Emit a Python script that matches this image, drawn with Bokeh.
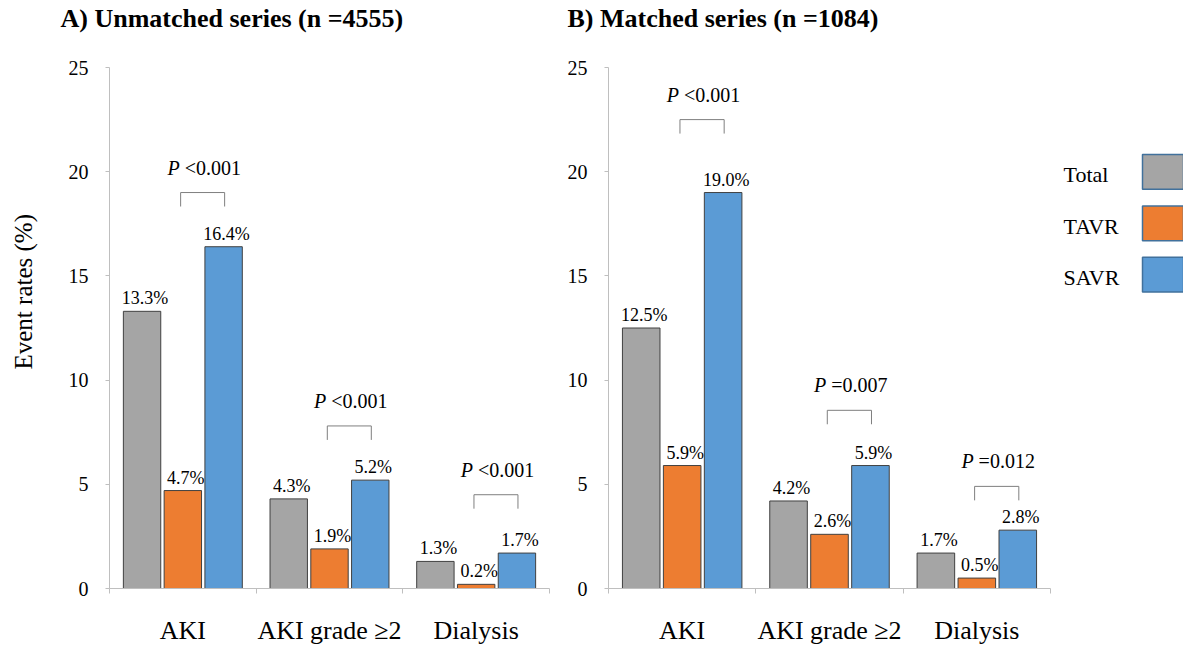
from bokeh.plotting import figure
from bokeh.models import ColumnDataSource, Range1d, FixedTicker, Title
from bokeh.layouts import row
from bokeh.transform import dodge
from bokeh.core.properties import value
from bokeh.embed import file_html
from bokeh.resources import INLINE

# ---------------- data ----------------
categories = ["AKI", "AKI grade \u22652", "Dialysis"]
series = ["Total", "TAVR", "SAVR"]
colors = ["#A5A5A5", "#ED7D31", "#5B9BD5"]

unmatched_total = [13.3, 4.3, 1.3]
unmatched_tavr = [4.7, 1.9, 0.2]
unmatched_savr = [16.4, 5.2, 1.7]
unmatched_p = ["<0.001", "<0.001", "<0.001"]
unmatched_bracket = [19.0, 7.8, 4.5]

matched_total = [12.5, 4.2, 1.7]
matched_tavr = [5.9, 2.6, 0.5]
matched_savr = [19.0, 5.9, 2.8]
matched_p = ["<0.001", "=0.007", "=0.012"]
matched_bracket = [22.5, 8.55, 4.9]

y_ticks = [0, 5, 10, 15, 20, 25]

title_a = "A) Unmatched series (n =4555)"
title_b = "B) Matched series (n =1084)"
y_label = "Event rates (%)"

FONT = "Liberation Serif"
AXIS_COLOR = "#BFBFBF"
H = 647
TOP = 67
BOTTOM = 56


def spacer(size):
    return Title(text=" ", text_font_size="1px", standoff=size)


def panel(title, totals, tavrs, savrs, pvals, brackets, width, bl, br, title_x, ylab):
    p = figure(width=width, height=H, x_range=Range1d(0, len(categories)),
               y_range=Range1d(0, 25), output_backend="svg", toolbar_location=None,
               tools="", min_border_left=bl, min_border_right=br,
               min_border_top=TOP, min_border_bottom=BOTTOM)
    p.outline_line_color = None
    p.xgrid.grid_line_color = None
    p.ygrid.grid_line_color = None
    p.background_fill_color = "white"
    p.border_fill_color = "white"

    cx = [i + 0.5 for i in range(len(categories))]
    data = dict(x=cx, Total=totals, TAVR=tavrs, SAVR=savrs)
    for s, vals in zip(series, [totals, tavrs, savrs]):
        data[s + "_lab"] = [f"{v:.1f}%" for v in vals]
    src = ColumnDataSource(data)

    offsets = [-0.278, 0.0, 0.278]
    for s, c, off in zip(series, colors, offsets):
        p.vbar(x=dodge("x", off), top=s, width=0.255, source=src,
               fill_color=c, line_color="#404040", line_width=1)
        p.text(x=dodge("x", off), y=s, text=s + "_lab", source=src,
               text_font=value(FONT), text_font_size="18px", text_color="black",
               text_align="center", text_baseline="alphabetic",
               x_offset=3, y_offset=-13)

    # significance brackets
    h = 0.67
    lefts = [c - 0.015 for c in cx]
    rights = [c + 0.285 for c in cx]
    xs = [[l, l, r, r] for l, r in zip(lefts, rights)]
    ys = [[t - h, t, t, t - h] for t in brackets]
    p.multi_line(xs=xs, ys=ys, line_color="#7F7F7F", line_width=1)
    p.text(x=lefts, y=brackets, text=["P"] * len(brackets),
           text_font=value(FONT), text_font_size="20px", text_font_style="italic",
           text_color="black", text_align="right", text_baseline="alphabetic",
           x_offset=-1, y_offset=-25)
    p.text(x=lefts, y=brackets, text=pvals,
           text_font=value(FONT), text_font_size="20px",
           text_color="black", text_align="left", text_baseline="alphabetic",
           x_offset=4, y_offset=-25)

    # x axis
    xa = p.xaxis[0]
    xa.ticker = FixedTicker(ticks=cx, minor_ticks=list(range(len(categories) + 1)))
    xa.major_label_overrides = {c: n for c, n in zip(cx, categories)}
    xa.axis_line_color = AXIS_COLOR
    xa.major_tick_line_color = None
    xa.major_tick_out = 0
    xa.major_tick_in = 0
    xa.minor_tick_line_color = AXIS_COLOR
    xa.minor_tick_out = 5
    xa.minor_tick_in = 0
    xa.major_label_standoff = 22
    xa.major_label_text_font = FONT
    xa.major_label_text_font_size = "26px"
    xa.major_label_text_color = "black"

    # y axis
    ya = p.yaxis[0]
    ya.ticker = FixedTicker(ticks=y_ticks)
    ya.axis_line_color = AXIS_COLOR
    ya.major_tick_line_color = AXIS_COLOR
    ya.major_tick_out = 4
    ya.major_tick_in = 0
    ya.minor_tick_line_color = None
    ya.major_label_standoff = 17
    ya.major_label_text_font = FONT
    ya.major_label_text_font_size = "20px"
    ya.major_label_text_color = "black"

    # panel title (outermost), pushed up by an invisible spacer next to the frame
    p.add_layout(spacer(32), "above")
    p.title = Title(text=title, align="left", offset=title_x - bl, standoff=0,
                    text_font=FONT, text_font_size="26px", text_font_style="bold",
                    text_color="black")
    if ylab:
        p.add_layout(spacer(26), "left")
        p.add_layout(Title(text=ylab, align="left", offset=219, standoff=0,
                           text_font=FONT, text_font_size="25px",
                           text_font_style="normal", text_color="black"), "left")
    return p


# title_x is measured from each figure's own left edge
pa = panel(title_a, unmatched_total, unmatched_tavr, unmatched_savr, unmatched_p,
           unmatched_bracket, 560, 109, 11, 60, y_label)
pb = panel(title_b, matched_total, matched_tavr, matched_savr, matched_p,
           matched_bracket, 500, 48, 10, 7, None)

# legend (labels left of swatches); coordinates of this small figure are pixels
lg = figure(width=123, height=H, x_range=Range1d(0, 123),
            y_range=Range1d(H - BOTTOM, TOP), output_backend="svg",
            toolbar_location=None, tools="", x_axis_type=None, y_axis_type=None,
            min_border_left=0, min_border_right=0, min_border_top=TOP,
            min_border_bottom=BOTTOM)
lg.outline_line_color = None
lg.xgrid.grid_line_color = None
lg.ygrid.grid_line_color = None
row_y = [172 + 51.7 * i for i in range(len(series))]
lsrc = ColumnDataSource(dict(series=series, color=colors, y=row_y))
lg.rect(x=102.5, y="y", width=41, height=35, source=lsrc, fill_color="color",
        line_color="#41719C", line_width=1.5)
lg.text(x=3, y="y", text="series", source=lsrc, text_font=value(FONT),
        text_font_size="22px", text_color="black", text_align="left",
        text_baseline="middle", y_offset=3)

layout = row(pa, pb, lg)
open("out.html", "w").write(file_html(layout, INLINE))
